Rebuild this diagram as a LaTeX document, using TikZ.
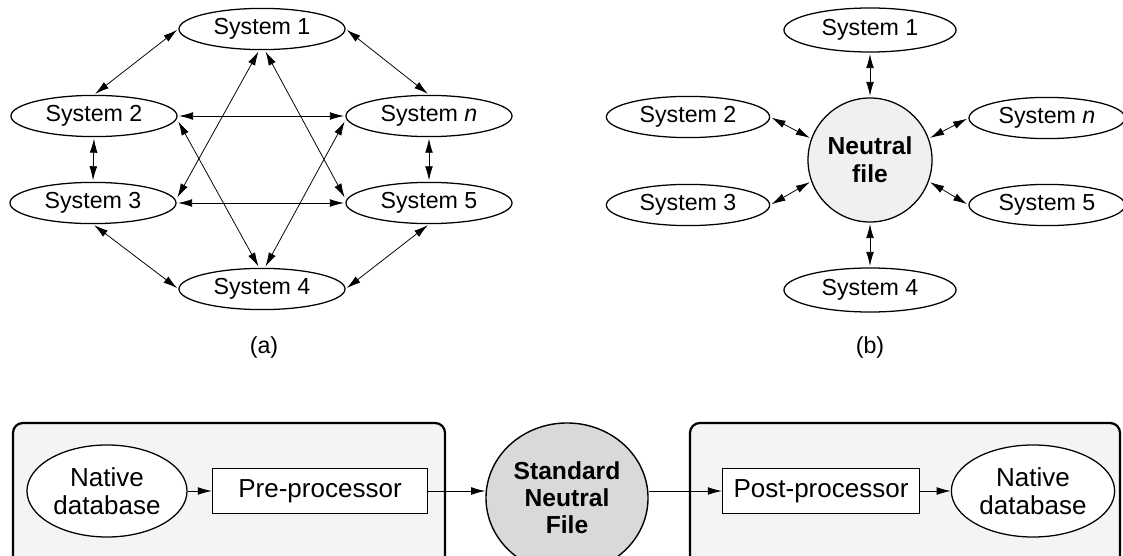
\documentclass[tikz,border=0pt]{standalone}
\usepackage{fontspec}
\setmainfont{Liberation Sans}
\usetikzlibrary{shapes.geometric,arrows.meta}

\tikzset{
    sysnode/.style={ellipse,draw,line width=0.9pt,fill=white,inner sep=0pt,
        minimum width=4.15cm,minimum height=1.03cm},
    hubnode/.style={circle,draw,line width=0.9pt,fill=gray!12,inner sep=0pt,
        minimum size=3.1cm,align=center,font=\fontsize{17.5}{20}\selectfont\bfseries},
    dbnode/.style={ellipse,draw,line width=0.9pt,fill=white,inner sep=0pt,
        minimum width=4cm,minimum height=2.3cm,align=center,font=\fontsize{18.5}{19.5}\selectfont},
    procbox/.style={rectangle,draw,line width=0.9pt,fill=white,inner sep=0pt,
        minimum height=1.12cm,font=\fontsize{18.5}{20}\selectfont},
    stdnode/.style={ellipse,draw,line width=1pt,fill=gray!30,inner sep=0pt,
        minimum width=4.05cm,minimum height=3.75cm,align=center,font=\fontsize{17.5}{19.3}\selectfont\bfseries},
    panel/.style={draw,line width=1.6pt,rounded corners=7pt,fill=gray!9},
    link/.style={<->,line width=0.55pt,shorten <=1pt,shorten >=1pt},
    flow/.style={->,line width=0.55pt}
}

\begin{document}
\begin{tikzpicture}[x=0.025cm,y=-0.025cm,>={Latex[length=10pt,width=5.5pt]},
    font=\fontsize{16.5}{19}\selectfont]
    \useasboundingbox (0,0) rectangle (1123,556);
    \clip (0,0) rectangle (1123,556);

    % (a) every system to every other
    \foreach \nm/\x/\y/\txt in {s1a/262/29/1,s2a/94/116/2,sna/429/116/{\itshape n},
                                s3a/93/203/3,s5a/429/203/5,s4a/262/289/4}{
        \node[sysnode] (\nm) at (\x,\y) {System \txt};
    }
    \foreach \p/\q in {s1a.west/s2a.north,s1a.east/sna.north,s2a.south/s3a.north,
                       sna.south/s5a.north,s3a.south/s4a.west,s5a.south/s4a.east,
                       s2a.east/sna.west,s3a.east/s5a.west}{
        \draw[link] (\p) -- (\q);
    }
    \draw[link] ([xshift=-2pt]s1a.south) -- ([yshift=3pt]s3a.east);
    \draw[link] ([xshift=2pt]s1a.south) -- ([yshift=3pt]s5a.west);
    \draw[link] ([yshift=-3pt]s2a.east) -- ([xshift=-2pt]s4a.north);
    \draw[link] ([yshift=-3pt]sna.west) -- ([xshift=2pt]s4a.north);
    \node (capa) at (264,347) {(a)};

    % (b) through a neutral file
    \node[hubnode] (nf) at (870,160) {Neutral\\file};
    \node[sysnode,minimum width=4.3cm,minimum height=1.1cm] (s1b) at (870,30) {System 1};
    \node[sysnode,minimum width=4.08cm] (s2b) at (688,117) {System 2};
    \node[sysnode,minimum width=4.08cm] (s3b) at (688,205) {System 3};
    \node[sysnode,minimum width=3.9cm] (snb) at (1047,118) {System {\itshape n}};
    \node[sysnode,minimum width=3.9cm] (s5b) at (1047,205) {System 5};
    \node[sysnode,minimum width=4.3cm,minimum height=1.1cm] (s4b) at (870,290) {System 4};
    \draw[link] (s1b) -- (nf);
    \draw[link] (s4b) -- (nf);
    \foreach \p/\a in {s2b.east/160,s3b.east/200,snb.west/20,s5b.west/-20}{
        \draw[link] (\p) -- (nf.\a);
    }
    \node (capb) at (870,347) {(b)};

    % translation chain
    \draw[panel] (13,423) rectangle (445,600);
    \draw[panel] (690,423) rectangle (1120,600);
    \node[dbnode] (dbl) at (107,491) {Native\\database};
    \node[procbox,minimum width=5.375cm] (pre) at (320,491) {Pre-processor};
    \node[stdnode] (snf) at (567,498) {Standard\\Neutral\\File};
    \node[procbox,minimum width=4.925cm] (post) at (821,491) {Post-processor};
    \node[dbnode,minimum width=4.08cm] (dbr) at (1033,491) {Native\\database};
    \draw[flow] (dbl) -- (pre);
    \draw[flow] (pre) -- (pre -| snf.west);
    \draw[flow] (snf.east |- post) -- (post);
    \draw[flow] (post) -- (dbr);
\end{tikzpicture}
\end{document}
